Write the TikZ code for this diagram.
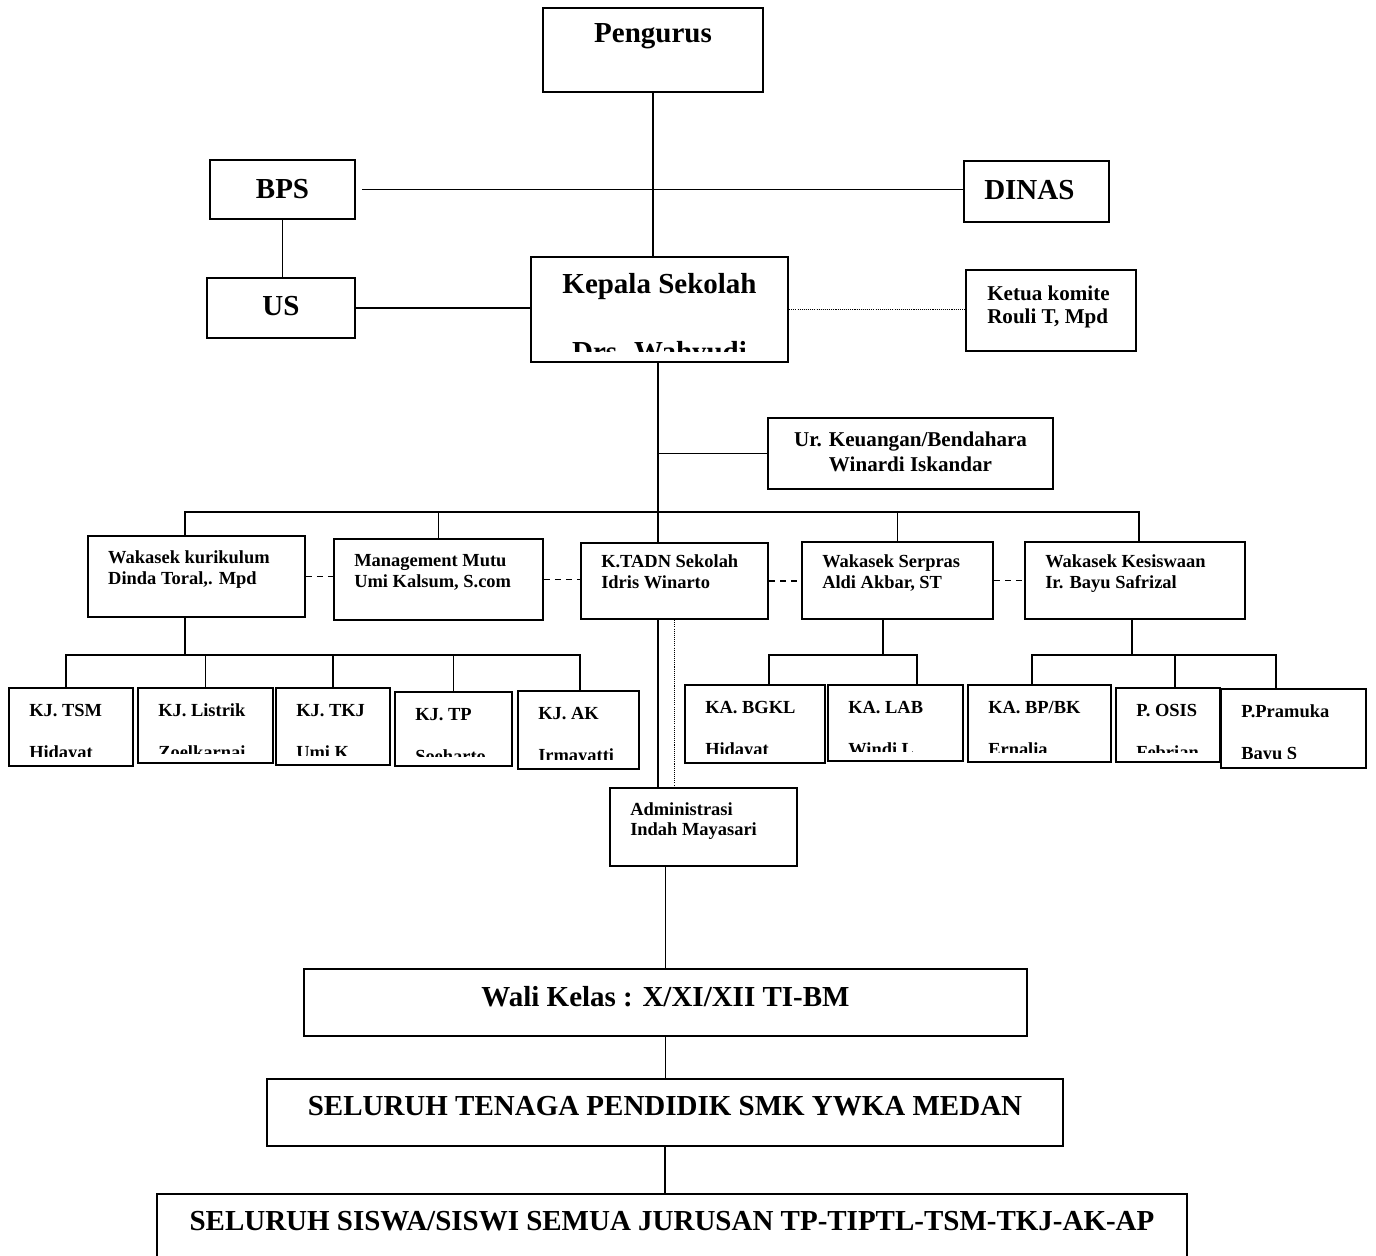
\documentclass[tikz,border=0pt]{standalone}
\usepackage{fontspec}
\setmainfont{Liberation Serif}
\usetikzlibrary{fit}

\begin{document}
\begin{tikzpicture}[
  x=0.02cm, y=-0.02cm,
  % Node styles
  box/.style={draw, line width=1.25pt, inner sep=0pt},
  bigtxt/.style={font=\fontsize{16.5}{20}\selectfont\bfseries, inner sep=0pt},
  midtxt/.style={font=\fontsize{12}{14}\selectfont\bfseries, inner sep=0pt},
  smalltxt/.style={font=\fontsize{10.5}{12.5}\selectfont\bfseries, inner sep=0pt},
  % Line styles
  link/.style={line width=1.1pt},
  dashlink/.style={line width=1.1pt, dash pattern=on 3.4pt off 2.8pt},
  dotlink/.style={line width=0.5pt, dash pattern=on 0.6pt off 0.6pt},
]

  \useasboundingbox (0,0) rectangle (1376,1256);

  % ── Top: Pengurus, BPS, DINAS, US ──
  \node[box, fit={(543,8) (763,92)}] (pengurus) {};
  \node[bigtxt, anchor=base] at ([yshift=-0.72cm]pengurus.north) {Pengurus};

  \node[box, fit={(210,160) (355,219)}] (bps) {};
  \node[bigtxt, anchor=base] at ([yshift=-0.19cm]bps.center) {BPS};

  \node[box, fit={(964,161) (1109,222)}] (dinas) {};
  \node[bigtxt, anchor=base west] at ([xshift=0.42cm, yshift=-0.16cm]dinas.west) {DINAS};

  \node[box, fit={(207,278) (355,338)}] (us) {};
  \node[bigtxt, anchor=base] at ([yshift=-0.16cm]us.center) {US};

  % ── Kepala Sekolah and Ketua komite ──
  \node[box, fit={(531,257) (788,362)}] (kepala) {};
  \node[bigtxt, anchor=base] at ([yshift=-0.76cm]kepala.north) {Kepala Sekolah};
  \begin{scope}
    \clip (kepala.north west) rectangle ([yshift=0.24cm]kepala.south east);
    \node[bigtxt, anchor=base] at ([yshift=-2.12cm]kepala.north) {Drs. Wahyudi};
  \end{scope}

  \node[box, fit={(966,270) (1136,351)}] (ketua) {};
  \node[midtxt, anchor=base west] at ([xshift=0.44cm, yshift=-0.64cm]ketua.north west) {Ketua komite};
  \node[midtxt, anchor=base west] at ([xshift=0.44cm, yshift=-1.1cm]ketua.north west) {Rouli T, Mpd};

  \node[box, fit={(768,418) (1053,489)}] (keu) {};
  \node[midtxt, anchor=base] at ([yshift=-0.6cm]keu.north) {Ur. Keuangan/Bendahara};
  \node[midtxt, anchor=base] at ([yshift=-1.1cm]keu.north) {Winardi Iskandar};

  % ── Row of wakasek ──
  \node[box, fit={(88,536) (305,617)}] (kur) {};
  \node[smalltxt, anchor=base west] at ([xshift=0.42cm, yshift=-0.58cm]kur.north west) {Wakasek kurikulum};
  \node[smalltxt, anchor=base west] at ([xshift=0.42cm, yshift=-1.0cm]kur.north west) {Dinda Toral,. Mpd};

  \node[box, fit={(334,539) (543,620)}] (mutu) {};
  \node[smalltxt, anchor=base west] at ([xshift=0.42cm, yshift=-0.58cm]mutu.north west) {Management Mutu};
  \node[smalltxt, anchor=base west] at ([xshift=0.42cm, yshift=-1.0cm]mutu.north west) {Umi Kalsum, S.com};

  \node[box, fit={(581,543) (768,619)}] (tadn) {};
  \node[smalltxt, anchor=base west] at ([xshift=0.42cm, yshift=-0.52cm]tadn.north west) {K.TADN Sekolah};
  \node[smalltxt, anchor=base west] at ([xshift=0.42cm, yshift=-0.94cm]tadn.north west) {Idris Winarto};

  \node[box, fit={(802,542) (993,619)}] (serpras) {};
  \node[smalltxt, anchor=base west] at ([xshift=0.42cm, yshift=-0.54cm]serpras.north west) {Wakasek Serpras};
  \node[smalltxt, anchor=base west] at ([xshift=0.42cm, yshift=-0.96cm]serpras.north west) {Aldi Akbar, ST};

  \node[box, fit={(1025,542) (1245,619)}] (kes) {};
  \node[smalltxt, anchor=base west] at ([xshift=0.42cm, yshift=-0.54cm]kes.north west) {Wakasek Kesiswaan};
  \node[smalltxt, anchor=base west] at ([xshift=0.42cm, yshift=-0.96cm]kes.north west) {Ir. Bayu Safrizal};

  % ── Row of KJ / KA / P ──
  \node[box, fit={(9,688) (133,766)}] (kj1) {};
  \node[box, fit={(138,688) (273,763)}] (kj2) {};
  \node[box, fit={(276,688) (390,765)}] (kj3) {};
  \node[box, fit={(395,692) (512,766)}] (kj4) {};
  \node[box, fit={(518,691) (639,769)}] (kj5) {};
  \node[box, fit={(685,685) (825,763)}] (bgkl) {};
  \node[box, fit={(828,685) (963,761)}] (lab) {};
  \node[box, fit={(968,685) (1111,762)}] (bpbk) {};
  \node[box, fit={(1116,688) (1220,762)}] (osis) {};
  \node[box, fit={(1221,689) (1366,768)}] (pramuka) {};

  % first line shown whole, second line cut off by the box margin
  \foreach \n/\a/\b in {kj1/KJ. TSM/Hidayat, kj2/KJ. Listrik/Zoelkarnai, kj3/KJ. TKJ/Umi K,
      kj4/KJ. TP/Soeharto, kj5/KJ. AK/Irmayatti, bgkl/KA. BGKL/Hidayat, lab/KA. LAB/Windi L,
      bpbk/KA. BP\slash BK/Ernalia, osis/P. OSIS/Febrian, pramuka/P.Pramuka/Bayu S}{
    \node[smalltxt, anchor=base west] at ([xshift=0.42cm, yshift=-0.6cm]\n.north west) {\a};
    \begin{scope}
      \clip (\n.north west) rectangle ([yshift=0.22cm]\n.south east);
      \node[smalltxt, anchor=base west] at ([xshift=0.42cm, yshift=-1.44cm]\n.north west) {\b};
    \end{scope}
  }

  % ── Administrasi and the bottom boxes ──
  \node[box, fit={(610,788) (797,866)}] (admin) {};
  \node[smalltxt, anchor=base west] at ([xshift=0.42cm, yshift=-0.58cm]admin.north west) {Administrasi};
  \node[smalltxt, anchor=base west] at ([xshift=0.42cm, yshift=-0.98cm]admin.north west) {Indah Mayasari};

  \node[box, fit={(304,969) (1027,1036)}] (wali) {};
  \node[bigtxt, anchor=base] at ([yshift=-0.78cm]wali.north) {Wali Kelas : X/XI/XII TI-BM};

  \node[box, fit={(267,1079) (1063,1146)}] (tenaga) {};
  \node[bigtxt, anchor=base] at ([yshift=-0.76cm]tenaga.north) {SELURUH TENAGA PENDIDIK SMK YWKA MEDAN};

  \node[box, fit={(157,1194) (1187,1268)}] (siswa) {};
  \node[bigtxt, anchor=base] at ([yshift=-0.76cm]siswa.north) {SELURUH SISWA/SISWI SEMUA JURUSAN TP-TIPTL-TSM-TKJ-AK-AP};

  % ── Bus points ──
  \coordinate (trunk) at (658,512);
  \coordinate (busL) at (185,512);
  \coordinate (busR) at (1139,512);
  \coordinate (kbM) at (185,655);
  \coordinate (kbL) at (66,655);
  \coordinate (kbR) at (580,655);
  \coordinate (sbM) at (883,655);
  \coordinate (sbL) at (769,655);
  \coordinate (sbR) at (917,655);
  \coordinate (ebM) at (1132,655);
  \coordinate (ebL) at (1032,655);
  \coordinate (ebC) at (1175,655);
  \coordinate (ebR) at (1276,655);

  % ── Lines: top ──
  \draw[link] (pengurus.south) -- (pengurus.south |- kepala.north);
  \draw[link] ([xshift=0.12cm]bps.east) -- (bps.east -| dinas.west);
  \draw[link] (bps.south) -- (bps.south |- us.north);
  \draw[link] (us.east) -- (us.east -| kepala.west);
  \draw[dotlink] (kepala.east) -- (kepala.east -| ketua.west);

  % ── Lines: trunk and wakasek bus ──
  \draw[link] (trunk |- kepala.south) -- (trunk |- tadn.north);
  \draw[link] (trunk |- keu.west) -- (keu.west);
  \draw[link] (busL |- kur.north) -- (busL) -- (busR) -- (busR |- kes.north);
  \draw[link] (mutu.north |- busL) -- (mutu.north);
  \draw[link] (serpras.north |- busL) -- (serpras.north);

  % ── Lines: dashed links in the wakasek row ──
  \draw[dashlink] (kur.east) -- (kur.east -| mutu.west);
  \draw[dashlink] (mutu.east) -- (mutu.east -| tadn.west);
  \draw[dashlink] (tadn.east) -- (tadn.east -| serpras.west);
  \draw[dashlink] (serpras.east) -- (serpras.east -| kes.west);

  % ── Lines: KJ bus ──
  \draw[link] (kbM |- kur.south) -- (kbM);
  \draw[link] (kbL |- kj1.north) -- (kbL) -- (kbR) -- (kbR |- kj5.north);
  \draw[link] (kj2.north |- kbL) -- (kj2.north);
  \draw[link] (kj3.north |- kbL) -- (kj3.north);
  \draw[link] (kj4.north |- kbL) -- (kj4.north);

  % ── Lines: Serpras and Kesiswaan buses ──
  \draw[link] (sbM |- serpras.south) -- (sbM);
  \draw[link] (sbL |- bgkl.north) -- (sbL) -- (sbR) -- (sbR |- lab.north);
  \draw[link] (ebM |- kes.south) -- (ebM);
  \draw[link] (ebL |- bpbk.north) -- (ebL) -- (ebR) -- (ebR |- pramuka.north);
  \draw[link] (ebC) -- (ebC |- osis.north);

  % ── Lines: down to the bottom ──
  \draw[link] (trunk |- tadn.south) -- (trunk |- admin.north);
  \draw[dotlink] (tadn.south) -- (tadn.south |- admin.north);
  \draw[link] (wali.north |- admin.south) -- (wali.north);
  \draw[link] (wali.south) -- (wali.south |- tenaga.north);
  \draw[link] (tenaga.south) -- (tenaga.south |- siswa.north);

\end{tikzpicture}
\end{document}
